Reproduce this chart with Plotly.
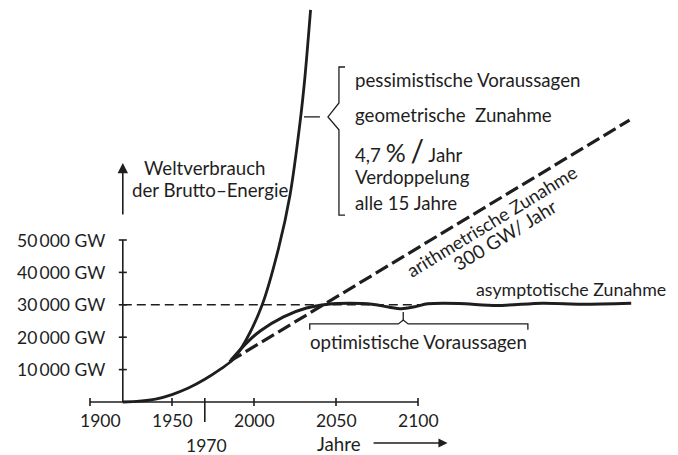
import plotly.graph_objects as go

# ---- data ----
exp_years = [1920, 1930, 1940, 1950, 1960, 1970, 1980, 1987, 1995, 2005, 2015, 2022, 2028, 2031, 2034.5]
exp_values = [0, 250, 900, 2300, 4300, 7000, 10300, 13000, 19000, 30000, 47500, 64000, 86000, 100000, 121000]

asym_years = [1986, 1996, 2004, 2018, 2032, 2045, 2058, 2072, 2082, 2090, 2098, 2106, 2125, 2148, 2176, 2200, 2230]
asym_values = [13000, 18500, 22000, 26300, 29000, 30200, 30500, 30200, 29300, 28800, 29400, 30300, 30400, 29800, 30500, 30200, 30500]

arith_years = [1985, 2229]
arith_values = [12500, 87000]

ref_years = [1920, 2102]
ref_values = [30000, 30000]

x_ticks = [1900, 1950, 2000, 2050, 2100]
x_tick_labels = ["1900", "1950", "2000", "2050", "2100"]
y_ticks = [10000, 20000, 30000, 40000, 50000]
y_tick_labels = ["10\u2009000 GW", "20\u2009000 GW", "30\u2009000 GW", "40\u2009000 GW", "50\u2009000 GW"]

INK = "#1e1e1e"
FONT = "Lato"
FS = 18.7
FS_TICK = 17.5

fig = go.Figure()

fig.add_trace(go.Scatter(x=exp_years, y=exp_values, mode="lines",
                         line=dict(color=INK, width=2.8, shape="spline", smoothing=0.8),
                         hoverinfo="skip"))
fig.add_trace(go.Scatter(x=asym_years, y=asym_values, mode="lines",
                         line=dict(color=INK, width=3, shape="spline", smoothing=0.8),
                         hoverinfo="skip"))
fig.add_trace(go.Scatter(x=arith_years, y=arith_values, mode="lines",
                         line=dict(color=INK, width=3.2, dash="14px,5px"),
                         hoverinfo="skip"))
fig.add_trace(go.Scatter(x=ref_years, y=ref_values, mode="lines",
                         line=dict(color=INK, width=1.4, dash="9px,5px"),
                         hoverinfo="skip"))

shapes = []
# axes
shapes.append(dict(type="line", xref="x", yref="y", x0=1900, x1=2100, y0=0, y1=0,
                   line=dict(color=INK, width=1.6)))
shapes.append(dict(type="line", xref="x", yref="y", x0=1920, x1=1920, y0=0, y1=50000,
                   line=dict(color=INK, width=1.6)))
for xv in x_ticks:
    shapes.append(dict(type="line", xref="x", yref="y", ysizemode="pixel", yanchor=0,
                       x0=xv, x1=xv, y0=-4, y1=4, line=dict(color=INK, width=1.6)))
for yv in y_ticks:
    shapes.append(dict(type="line", xref="x", yref="y", xsizemode="pixel", xanchor=1920,
                       x0=-4, x1=4, y0=yv, y1=yv, line=dict(color=INK, width=1.6)))
# 1970 marker
shapes.append(dict(type="line", xref="x", yref="y", x0=1970, x1=1970, y0=1200, y1=-6200,
                   line=dict(color=INK, width=1.6)))
# pessimistic bracket
shapes.append(dict(type="path", xref="x", yref="y",
                   path="M 2055.5,103400 L 2051.8,103400 L 2051.8,92300 L 2045.1,88000 "
                        "L 2051.8,84000 L 2051.8,57700 L 2055.5,57700",
                   line=dict(color=INK, width=1.3)))
shapes.append(dict(type="line", xref="x", yref="y", x0=2030.5, x1=2040.2, y0=88000, y1=88000,
                   line=dict(color=INK, width=1.3)))
# optimistic brace
shapes.append(dict(type="path", xref="x", yref="y",
                   path="M 2034,22300 L 2034,24100 L 2088,24100 L 2091,25300 L 2094,24100 "
                        "L 2167,24100 L 2167,22300",
                   line=dict(color=INK, width=1.3)))
shapes.append(dict(type="line", xref="x", yref="y", x0=2091, x1=2091, y0=25300, y1=27800,
                   line=dict(color=INK, width=1.3)))

ann = []
def txt(x, y, s, xanchor="left", size=FS, angle=0, xshift=0, yshift=0):
    ann.append(dict(x=x, y=y, xref="x", yref="y", text=s, showarrow=False,
                    xanchor=xanchor, yanchor="middle", textangle=angle,
                    xshift=xshift, yshift=yshift,
                    font=dict(family=FONT, size=size, color=INK)))

for yv, lab in zip(y_ticks, y_tick_labels):
    txt(1920, yv, lab, xanchor="right", xshift=-16, size=FS_TICK)
for xv, lab in zip(x_ticks, x_tick_labels):
    txt(xv, -5600, lab, xanchor="center", xshift=(10 if xv == 1900 else 0), size=FS_TICK)
txt(1970, -13300, "1970", xanchor="center", xshift=2, size=FS_TICK)
txt(2037.2, -13000, "Jahre")

txt(1931.7, 72200, "Weltverbrauch")
txt(1924.4, 65400, "der Brutto\u2013Energie")

txt(2060.4, 99400, "pessimistische Voraussagen")
txt(2060.4, 88600, "geometrische  Zunahme")
txt(2060.4, 77800, "4,7 <span style='font-size:25px'>%</span> <span style='font-size:30px'>/</span> Jahr")
txt(2060.4, 69400, "Verdoppelung")
txt(2060.4, 61400, "alle 15 Jahre")

txt(2134.0, 34900, "asymptotische Zunahme", size=17.8)
txt(2100, 18500, "optimistische Voraussagen", xanchor="center")

txt(2145.1, 55860, "arithmetrische Zunahme", xanchor="center", size=18.3, angle=-31.4)
txt(2153.0, 51850, "300 GW/ Jahr", xanchor="center", size=18.8, angle=-31.4)

# arrows
ann.append(dict(x=1920, y=73800, ax=1920, ay=57400, xref="x", yref="y", axref="x", ayref="y",
                text="", showarrow=True, arrowhead=2, arrowsize=1.3, arrowwidth=1.6,
                arrowcolor=INK))
ann.append(dict(x=2118, y=-12650, ax=2072, ay=-12650, xref="x", yref="y", axref="x", ayref="y",
                text="", showarrow=True, arrowhead=2, arrowsize=1.3, arrowwidth=1.4,
                arrowcolor=INK))

# page body has an 8px margin: figure is sized so that page fits the window
fig.update_layout(
    width=670, height=447,
    margin=dict(l=0, r=0, t=0, b=0),
    paper_bgcolor="white", plot_bgcolor="white",
    showlegend=False,
    shapes=shapes, annotations=ann,
    xaxis=dict(range=[1850.0, 2258.54], visible=False, fixedrange=True),
    yaxis=dict(range=[-16358, 121605], visible=False, fixedrange=True),
)

fig.write_html("out.html")
